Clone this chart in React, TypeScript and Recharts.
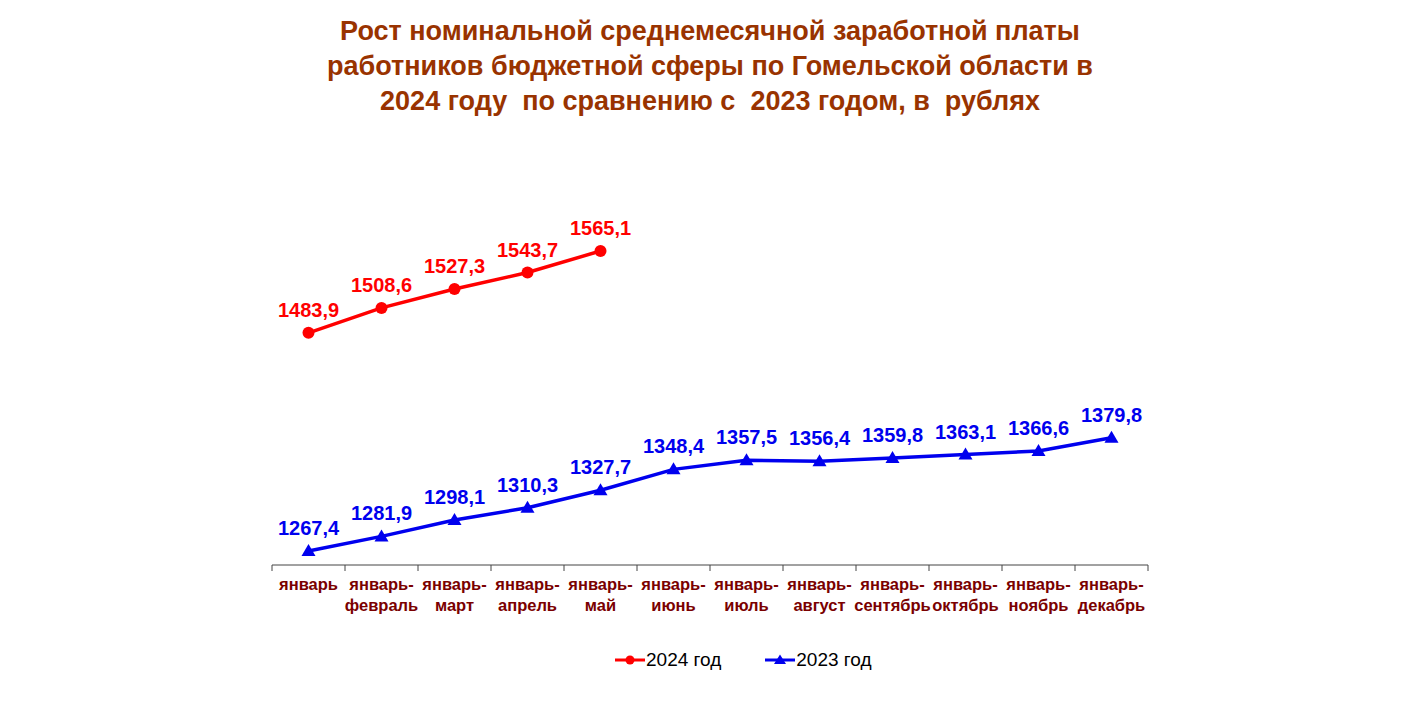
import { LineChart, Line, XAxis, YAxis } from "recharts";

const months = [
  "январь",
  "январь-февраль",
  "январь-март",
  "январь-апрель",
  "январь-май",
  "январь-июнь",
  "январь-июль",
  "январь-август",
  "январь-сентябрь",
  "январь-октябрь",
  "январь-ноябрь",
  "январь-декабрь",
];

const salary2024 = [1483.9, 1508.6, 1527.3, 1543.7, 1565.1];

const salary2023 = [
  1267.4, 1281.9, 1298.1, 1310.3, 1327.7, 1348.4, 1357.5, 1356.4, 1359.8,
  1363.1, 1366.6, 1379.8,
];

const labelTicks = months.map((_, i) => i + 0.5);
const boundaryTicks = [0, 1, 2, 3, 4, 5, 6, 7, 8, 9, 10, 11, 12];

const data = months.map((m, i) => ({
  x: i + 0.5,
  month: m,
  y2024: i < salary2024.length ? salary2024[i] : null,
  y2023: salary2023[i],
}));

const RED = "#ff0000";
const BLUE = "#0000ee";
const AXIS_TEXT = "#7a0000";

const fmt = (v: number) => v.toFixed(1).replace(".", ",");

function MonthTick(props: any) {
  const { x, y, payload } = props;
  const label = months[Math.round(payload.value - 0.5)] ?? "";
  const dash = label.indexOf("-");
  const first = dash >= 0 ? label.slice(0, dash + 1) : label;
  const second = dash >= 0 ? label.slice(dash + 1) : "";
  return (
    <text
      x={x}
      y={y}
      textAnchor="middle"
      fill={AXIS_TEXT}
      fontFamily="Arial, 'Liberation Sans', sans-serif"
      fontWeight="bold"
      fontSize={16.5}
    >
      <tspan x={x} dy={18}>
        {first}
      </tspan>
      {second && (
        <tspan x={x} dy={21}>
          {second}
        </tspan>
      )}
    </text>
  );
}

const EmptyTick = () => <g />;

const makeLabel = (color: string) => (props: any) => {
  const { x, y, value, index } = props;
  if (value == null || y == null) return <g key={`l-${index}`} />;
  return (
    <text
      key={`l-${index}`}
      x={x}
      y={y - 16}
      textAnchor="middle"
      fill={color}
      fontFamily="Arial, 'Liberation Sans', sans-serif"
      fontWeight="bold"
      fontSize={20}
    >
      {fmt(value)}
    </text>
  );
};

const circleDot = (props: any) => {
  const { cx, cy, index } = props;
  if (cx == null || cy == null || props.value == null)
    return <g key={`d-${index}`} />;
  return <circle key={`d-${index}`} cx={cx} cy={cy} r={6} fill={RED} />;
};

const triangleDot = (props: any) => {
  const { cx, cy, index } = props;
  if (cx == null || cy == null) return <g key={`t-${index}`} />;
  return (
    <polygon
      key={`t-${index}`}
      points={`${cx},${cy - 7} ${cx + 7},${cy + 5} ${cx - 7},${cy + 5}`}
      fill={BLUE}
    />
  );
};

function LegendItem({ color, marker, text }: any) {
  return (
    <div style={{ display: "flex", alignItems: "center", marginRight: 44 }}>
      <svg width={30} height={14}>
        <line x1={0} y1={7} x2={30} y2={7} stroke={color} strokeWidth={3} />
        {marker === "circle" ? (
          <circle cx={15} cy={7} r={4.5} fill={color} />
        ) : (
          <polygon points="15,1.5 21,11 9,11" fill={color} />
        )}
      </svg>
      <span style={{ marginLeft: 1 }}>{text}</span>
    </div>
  );
}

export default function App() {
  return (
    <div style={{ position: "relative", width: 1400, height: 692 }}>
      <div
        style={{
          position: "absolute",
          top: 6,
          left: 0,
          width: 1404,
          textAlign: "center",
          color: "#993300",
          fontFamily: "'Liberation Sans Narrow', 'Arial Narrow', sans-serif",
          fontWeight: "bold",
          fontSize: 27,
          lineHeight: "35px",
        }}
      >
        Рост номинальной среднемесячной заработной платы
        <br />
        работников бюджетной сферы по Гомельской области в
        <br />
        2024 году&nbsp; по сравнению с&nbsp; 2023 годом, в&nbsp; рублях
      </div>

      <LineChart
        width={1400}
        height={692}
        data={data}
        margin={{ top: 142, right: 260, bottom: 75, left: 264 }}
      >
        <XAxis
          xAxisId="marks"
          dataKey="x"
          type="number"
          domain={[0, 12]}
          ticks={boundaryTicks}
          tick={<EmptyTick />}
          height={60}
          stroke="#444"
          tickSize={6}
          interval={0}
        />
        <XAxis
          xAxisId="labels"
          dataKey="x"
          type="number"
          domain={[0, 12]}
          ticks={labelTicks}
          tick={<MonthTick />}
          axisLine={false}
          tickLine={false}
          height={1}
          interval={0}
        />
        <YAxis hide domain={[1254.5, 1665.3]} />
        <Line
          xAxisId="marks"
          dataKey="y2024"
          stroke={RED}
          strokeWidth={3.5}
          dot={circleDot}
          activeDot={false}
          label={makeLabel(RED)}
          isAnimationActive={false}
        />
        <Line
          xAxisId="marks"
          dataKey="y2023"
          stroke={BLUE}
          strokeWidth={3.5}
          dot={triangleDot}
          activeDot={false}
          label={makeLabel(BLUE)}
          isAnimationActive={false}
        />
      </LineChart>

      <div
        style={{
          position: "absolute",
          top: 641,
          left: 607,
          display: "flex",
          fontFamily: "Arial, 'Liberation Sans', sans-serif",
          fontSize: 19,
          color: "#000",
        }}
      >
        <LegendItem color={RED} marker="circle" text="2024 год" />
        <LegendItem color={BLUE} marker="triangle" text="2023 год" />
      </div>
    </div>
  );
}
